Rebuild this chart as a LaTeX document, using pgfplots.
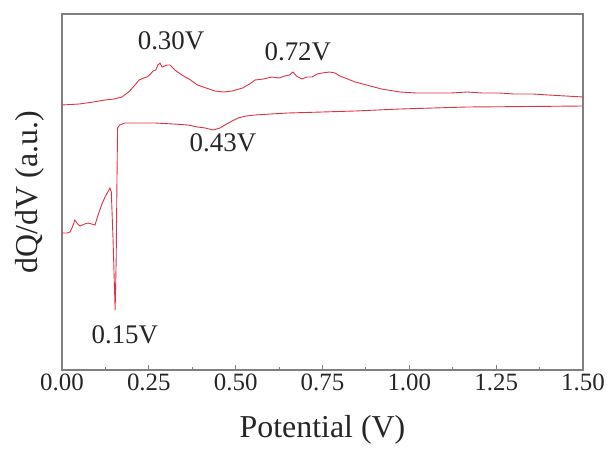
\documentclass[border=0pt]{standalone}
\usepackage{fontspec}
\setmainfont{Liberation Serif}
\usepackage{pgfplots}
\pgfplotsset{compat=1.18}
\definecolor{curve}{RGB}{225,50,68}
\definecolor{axgray}{RGB}{128,128,128}
\begin{document}
\begin{tikzpicture}
\begin{axis}[
  scale only axis,
  width=521bp, height=356bp,
  xmin=0, xmax=1.5, ymin=0, ymax=356,
  axis line style={axgray, line width=1.1pt},
  xtick={0,0.25,...,1.5},
  xticklabels={0.00,0.25,0.50,0.75,1.00,1.25,1.50},
  minor xtick={0.125,0.375,...,1.375},
  xtick pos=bottom,
  tick align=inside,
  major tick length=5bp, minor tick length=3bp,
  tick style={axgray, line width=0.9pt},
  ytick=\empty,
  xticklabel style={font=\fontsize{25}{30}\selectfont, text=black!85},
  xlabel={Potential (V)},
  ylabel={dQ/dV (a.u.)},
  label style={font=\fontsize{32}{36}\selectfont, text=black!85},
  xlabel style={yshift=-18bp},
  ylabel style={yshift=14bp},
  clip=true,
]
\addplot[curve, line width=0.9pt] coordinates {
(0.000,265) (0.05,266) (0.09,268) (0.124,270) (0.150,271) (0.173,273) (0.195,279)
(0.21,285) (0.222,290) (0.235,292) (0.245,293) (0.255,296) (0.262,299) (0.270,300)
(0.276,305) (0.282,307) (0.288,303) (0.295,304) (0.303,305) (0.311,305) (0.325,300)
(0.345,295) (0.37,290) (0.39,285) (0.415,282) (0.44,279) (0.465,278) (0.49,279)
(0.52,282) (0.54,286) (0.556,290) (0.58,291) (0.605,293) (0.625,292) (0.642,294)
(0.655,295) (0.665,298) (0.675,294) (0.69,291) (0.705,293) (0.72,293) (0.735,296)
(0.749,297) (0.77,298) (0.786,297) (0.80,294) (0.815,292) (0.844,288) (0.877,285)
(0.92,281) (0.973,278) (1.02,277) (1.07,277) (1.12,277) (1.166,278) (1.21,277)
(1.26,277) (1.30,276) (1.356,276) (1.40,275) (1.45,274) (1.5,273)
};
\addplot[curve, line width=0.9pt] coordinates {
(0.000,137) (0.015,137) (0.023,138) (0.030,143) (0.037,150) (0.045,146) (0.052,144)
(0.065,146) (0.075,147) (0.085,146) (0.095,145) (0.104,155) (0.115,166) (0.124,173)
(0.132,178) (0.138,182) (0.142,178) (0.147,130) (0.153,60) (0.156,110) (0.158,180)
(0.160,242) (0.166,245) (0.181,247) (0.22,247) (0.268,247) (0.32,246) (0.363,245)
(0.39,243) (0.412,242) (0.435,240) (0.455,242) (0.469,245) (0.49,249) (0.507,252)
(0.53,254) (0.556,255) (0.60,256) (0.651,257) (0.75,258) (0.844,259) (0.973,261)
(1.166,263) (1.35,263.5) (1.5,264)
};
\coordinate (O) at (rel axis cs:0,0);
\node[font=\fontsize{27}{30}\selectfont, text=black!85] at (axis cs:0.314,329) {0.30V};
\node[font=\fontsize{27}{30}\selectfont, text=black!85] at (axis cs:0.679,318) {0.72V};
\node[font=\fontsize{27}{30}\selectfont, text=black!85] at (axis cs:0.4635,227) {0.43V};
\node[font=\fontsize{27}{30}\selectfont, text=black!85] at (axis cs:0.181,35) {0.15V};
\end{axis}
\pgfresetboundingbox
\path[use as bounding box] (O) ++(-62bp,-85bp) rectangle ++(613bp,455bp);
\end{tikzpicture}
\end{document}
